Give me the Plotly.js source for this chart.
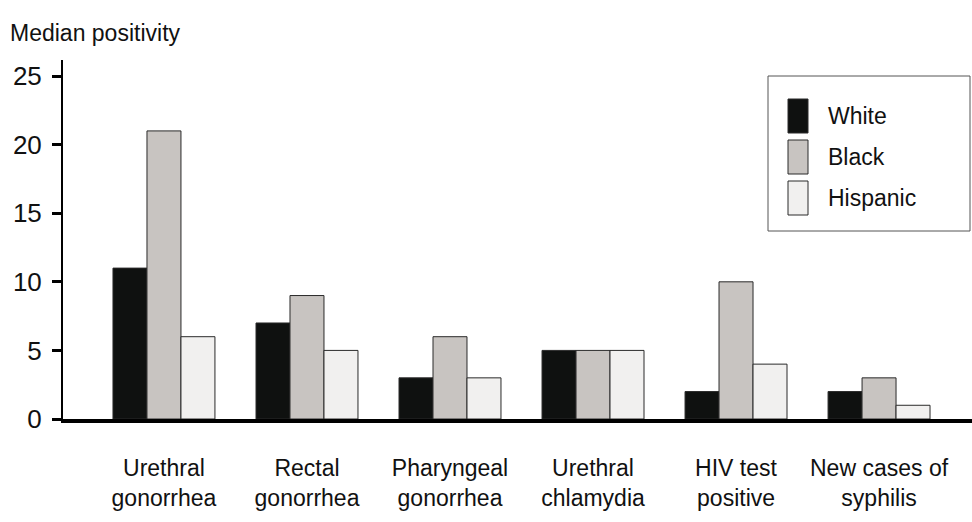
<!DOCTYPE html>
<html>
<head>
<meta charset="utf-8">
<script src="https://cdn.plot.ly/plotly-3.0.1.min.js"></script>
<style>html,body{margin:0;padding:0;background:#fff;}#chart{width:972px;height:522px;}</style>
</head>
<body>
<div id="chart"></div>
<script>
const categories = ["Urethral<br>gonorrhea", "Rectal<br>gonorrhea", "Pharyngeal<br>gonorrhea", "Urethral<br>chlamydia", "HIV test<br>positive", "New cases of<br>syphilis"];
const seriesNames = ["White", "Black", "Hispanic"];
const whiteVals = [11, 7, 3, 5, 2, 2];
const blackVals = [21, 9, 6, 5, 10, 3];
const hispanicVals = [6, 5, 3, 5, 4, 1];
const yTicks = [0, 5, 10, 15, 20, 25];

const colors = ["#0f1110", "#c8c4c1", "#f1f0ef"];
const FONT = "Liberation Sans Narrow, Arial Narrow, Liberation Sans, Arial, sans-serif";
const idx = categories.map((_, i) => i);
const values = [whiteVals, blackVals, hispanicVals];

const traces = values.map((v, k) => ({
  type: "bar",
  name: seriesNames[k],
  x: idx,
  y: v,
  marker: {color: colors[k], line: {color: "#2a2a2a", width: 1}},
  showlegend: false,
  hoverinfo: "x+y+name"
}));

// custom legend drawn as shapes + annotations (paper coords)
const shapes = [{
  type: "rect", xref: "paper", yref: "paper",
  x0: (768 - 63) / 909, x1: (970 - 63) / 909,
  y0: (419 - 231) / 359, y1: (419 - 76) / 359,
  line: {color: "#555", width: 1}, fillcolor: "rgba(0,0,0,0)"
}];
const annotations = [];
seriesNames.forEach((nm, k) => {
  const top = 99 + k * 41, bot = top + 34;
  shapes.push({
    type: "rect", xref: "paper", yref: "paper",
    x0: (788 - 63) / 909, x1: (808 - 63) / 909,
    y0: (419 - bot) / 359, y1: (419 - top) / 359,
    line: {color: "#2a2a2a", width: 1}, fillcolor: colors[k]
  });
  annotations.push({
    xref: "paper", yref: "paper", x: (826 - 63) / 909, y: (419 - (top + 17)) / 359,
    xanchor: "left", yanchor: "middle", showarrow: false, text: nm,
    font: {family: FONT, size: 23, color: "#111"}
  });
});

const layout = {
  width: 972, height: 522,
  margin: {l: 63, r: 0, t: 60, b: 103, pad: 0},
  paper_bgcolor: "#fff", plot_bgcolor: "#fff",
  font: {family: FONT, size: 22, color: "#111"},
  title: {text: "Median positivity", x: 10 / 972, xanchor: "left", xref: "container", y: 1 - 33 / 522, yanchor: "middle", yref: "container", font: {family: FONT, size: 23, color: "#111"}},
  barmode: "group", bargap: 0.287, bargroupgap: 0,
  xaxis: {
    range: [-0.706, 5.65], tickmode: "array", tickvals: idx, ticktext: categories,
    showline: true, linecolor: "#000", linewidth: 4, ticks: "", showgrid: false, zeroline: false,
    tickfont: {family: FONT, size: 23, color: "#111"}, ticklabelstandoff: 25, fixedrange: true
  },
  yaxis: {
    range: [0, 26.17], tickmode: "array", tickvals: yTicks, ticktext: yTicks.map(String),
    showline: true, linecolor: "#000", linewidth: 2, ticks: "outside", ticklen: 9, tickwidth: 3, tickcolor: "#000",
    showgrid: false, zeroline: false, tickfont: {family: FONT, size: 26, color: "#111"}, ticklabelstandoff: 5
  },
  shapes: shapes, annotations: annotations, showlegend: false
};

Plotly.newPlot("chart", traces, layout, {displayModeBar: false, staticPlot: true});
</script>
</body>
</html>
